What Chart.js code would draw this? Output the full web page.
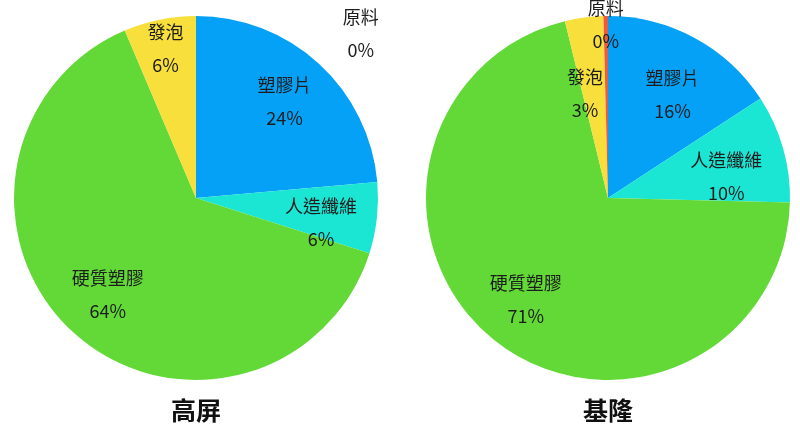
<!DOCTYPE html>
<html>
<head>
<meta charset="utf-8">
<script src="https://cdn.jsdelivr.net/npm/chart.js@4"></script>
<style>
  html, body { margin: 0; padding: 0; background: #fff; }
  .wrap { position: absolute; top: 0; height: 440px; }
  #left { left: 0; width: 392px; }
  #right { left: 416px; width: 384px; }
</style>
</head>
<body>
<div class="wrap" id="left"><canvas id="kaoping"></canvas></div>
<div class="wrap" id="right"><canvas id="keelung"></canvas></div>
<script>
// Data
const categories = ['塑膠片', '人造纖維', '硬質塑膠', '發泡', '原料'];
const regions = ['高屏', '基隆'];
const kaopingValues = [23.6, 6.3, 63.7, 6.4, 0];
const keelungValues = [15.8, 9.6, 70.8, 3.4, 0.4];
const colors = ['#05a1f6', '#1be6d3', '#62d936', '#f8df3b', '#ef5a3a'];

const FONT = '"Noto Sans CJK TC", "Noto Sans", sans-serif';

// draws "name / pct%" inside each slice
const sliceLabels = {
  id: 'sliceLabels',
  afterDatasetsDraw(chart, args, opts) {
    const ctx = chart.ctx;
    const meta = chart.getDatasetMeta(0);
    const values = chart.data.datasets[0].data;
    const total = values.reduce((a, b) => a + b, 0);
    ctx.save();
    ctx.font = '18px ' + FONT;
    ctx.fillStyle = '#1c1c1c';
    ctx.textAlign = 'center';
    ctx.textBaseline = 'middle';
    meta.data.forEach((arc, i) => {
      const p = arc.getProps(['x', 'y', 'startAngle', 'endAngle', 'outerRadius'], true);
      const place = (opts.place && opts.place[i]) || {};
      const frac = place.r !== undefined ? place.r : opts.radius;
      const ang = place.deg !== undefined
        ? (place.deg - 90) * Math.PI / 180
        : (p.startAngle + p.endAngle) / 2;
      const x = p.x + Math.cos(ang) * p.outerRadius * frac;
      const y = p.y + Math.sin(ang) * p.outerRadius * frac;
      const pct = Math.round(values[i] / total * 100) + '%';
      ctx.fillText(chart.data.labels[i], x, y - 16.5);
      ctx.fillText(pct, x, y + 16.5);
    });
    ctx.restore();
  }
};

function makePie(id, title, values, place) {
  // @ts-ignore
  new Chart(document.getElementById(id), {
    type: 'pie',
    data: {
      labels: categories,
      datasets: [{
        data: values,
        backgroundColor: colors,
        borderWidth: 0
      }]
    },
    options: {
      responsive: true,
      maintainAspectRatio: false,
      animation: false,
      layout: { padding: { top: 16, bottom: 15 } },
      plugins: {
        legend: { display: false },
        tooltip: { enabled: false },
        title: {
          display: true,
          text: title,
          position: 'bottom',
          color: '#111',
          font: { family: FONT, size: 25, weight: 'bold', lineHeight: 1.2 },
          padding: { top: 15, bottom: 0 }
        },
        sliceLabels: { radius: 0.72, place: place }
      }
    },
    plugins: [sliceLabels]
  });
}

makePie('kaoping', regions[0], kaopingValues, {
  1: { r: 0.70, deg: 101 },
  3: { r: 0.84 },
  4: { r: 1.28, deg: 45 }
});

makePie('keelung', regions[1], keelungValues, {
  0: { r: 0.67, deg: 32 },
  1: { r: 0.66, deg: 80 },
  3: { r: 0.585, deg: 347.5 },
  4: { r: 0.95 }
});
</script>
</body>
</html>
